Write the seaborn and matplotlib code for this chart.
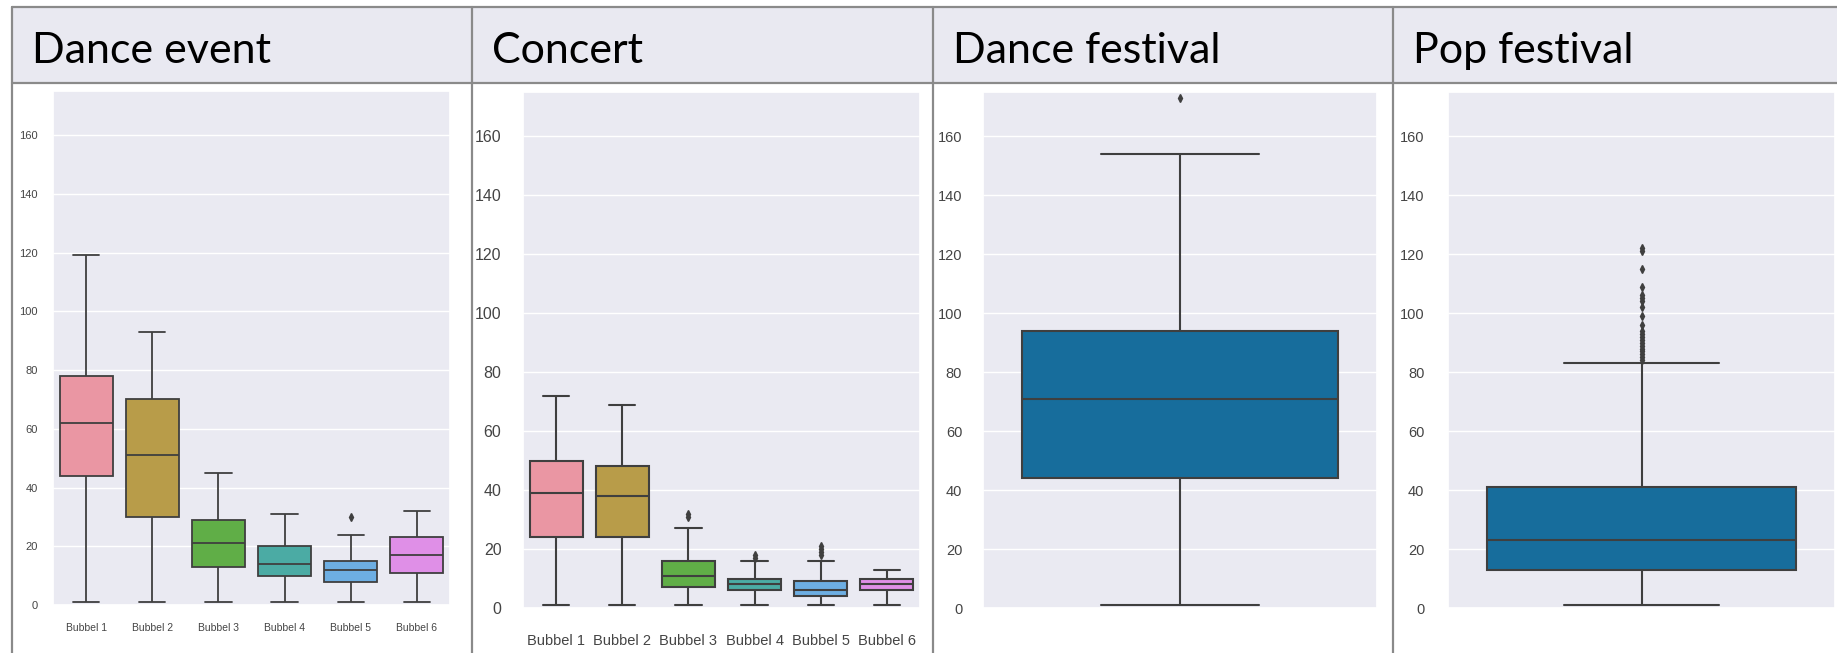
import numpy as np
import pandas as pd
import matplotlib.pyplot as plt
import seaborn as sns

W, H = 1837, 653

panel_titles = ["Dance event", "Concert", "Dance festival", "Pop festival"]
bubbles = ["Bubbel 1", "Bubbel 2", "Bubbel 3", "Bubbel 4", "Bubbel 5", "Bubbel 6"]

# Dance event: five-number summary per bubble + outliers
dance_event_low = [1, 1, 1, 1, 1, 1]
dance_event_q1 = [44, 30, 13, 10, 8, 11]
dance_event_med = [62, 51, 21, 14, 12, 17]
dance_event_q3 = [78, 70, 29, 20, 15, 23]
dance_event_high = [119, 93, 45, 31, 24, 32]
dance_event_out = [[], [], [], [], [30], []]

# Concert
concert_low = [1, 1, 1, 1, 1, 1]
concert_q1 = [24, 24, 7, 6, 4, 6]
concert_med = [39, 38, 11, 8, 6, 8]
concert_q3 = [50, 48, 16, 10, 9, 10]
concert_high = [72, 69, 27, 16, 16, 13]
concert_out = [[], [], [31, 32], [17, 18], [18, 19, 20, 21], []]

# Dance festival (one box)
dance_festival_stats = [1, 44, 71, 94, 154]
dance_festival_out = [173]

# Pop festival (one box)
pop_festival_stats = [1, 13, 23, 41, 83]
pop_festival_out = [84, 85, 86, 87, 88, 89, 90, 91, 92, 93, 94, 96, 99, 102,
                    104, 105, 106, 109, 115, 121, 122]

y_ticks = [0, 20, 40, 60, 80, 100, 120, 140, 160]


def make_sample(lo, q1, med, q3, hi, out):
    # rebuild a sample whose quartiles/whiskers give exactly the box
    m = len(out)
    k = m + 4
    return [lo] * (1 + m) + [q1] * k + [med] + [q3] * k + [hi] + list(out)


def long_frame(lows, q1s, meds, q3s, his, outs):
    rows = []
    for name, lo, a, b, c, hi, out in zip(bubbles, lows, q1s, meds, q3s, his, outs):
        for v in make_sample(lo, a, b, c, hi, out):
            rows.append((name, v))
    return pd.DataFrame(rows, columns=["bubble", "value"])


sns.set_theme(style="darkgrid")
plt.rcParams["font.family"] = ["Liberation Sans", "DejaVu Sans"]

fig = plt.figure(figsize=(W / 100, H / 100), dpi=100)
fig.patch.set_facecolor("white")

# slide table: header row + column lines, in pixel coordinates
bg = fig.add_axes([0, 0, 1, 1])
bg.set_xlim(0, W)
bg.set_ylim(H, 0)
bg.axis("off")
frame_col = "#8a8a8a"
col_x = [12, 472, 933, 1393]
bg.add_patch(plt.Rectangle((12, 7), W - 12, 76, facecolor="#e9e9f1", edgecolor="none"))
bg.plot([12, W], [7, 7], color=frame_col, lw=1.6)
bg.plot([12, W], [83, 83], color=frame_col, lw=1.6)
for x in col_x:
    bg.plot([x, x], [7, H], color=frame_col, lw=1.6)
for x, t in zip(col_x, panel_titles):
    bg.text(x + 20, 63, t, fontsize=31, family=["Lato", "DejaVu Sans"],
            color="black", va="baseline", ha="left")


def px_axes(x0, y0, x1, y1):
    return fig.add_axes([x0 / W, 1 - y1 / H, (x1 - x0) / W, (y1 - y0) / H])


line_col = "#3f3f3f"
tick_col = "#444444"
flier = dict(marker="d", markersize=4, markerfacecolor=line_col,
             markeredgecolor=line_col)

# panel 1 - Dance event
ax1 = px_axes(53, 91, 450, 605)
df1 = long_frame(dance_event_low, dance_event_q1, dance_event_med,
                 dance_event_q3, dance_event_high, dance_event_out)
sns.boxplot(data=df1, x="bubble", y="value", hue="bubble",
            palette=sns.husl_palette(6, l=.7), legend=False, width=0.8,
            linecolor=line_col, linewidth=1.3, flierprops=flier, ax=ax1)
ax1.tick_params(axis="y", labelsize=8, colors=tick_col, pad=5)
ax1.tick_params(axis="x", labelsize=7.5, colors=tick_col, pad=7)

# panel 2 - Concert
ax2 = px_axes(523, 92, 920, 608)
df2 = long_frame(concert_low, concert_q1, concert_med,
                 concert_q3, concert_high, concert_out)
sns.boxplot(data=df2, x="bubble", y="value", hue="bubble",
            palette=sns.husl_palette(6, l=.7), legend=False, width=0.8,
            linecolor=line_col, linewidth=1.5, flierprops=flier, ax=ax2)
ax2.tick_params(axis="y", labelsize=11.5, colors=tick_col, pad=9.5)
ax2.tick_params(axis="x", labelsize=10.5, colors=tick_col, pad=13)

# panel 3 - Dance festival
ax3 = px_axes(983, 92, 1377, 608)
sns.boxplot(y=make_sample(*dance_festival_stats, dance_festival_out),
            color=sns.color_palette("colorblind")[0], width=0.8,
            linecolor=line_col, linewidth=1.5, flierprops=flier, ax=ax3)
ax3.tick_params(axis="both", labelsize=10.5, colors=tick_col, pad=9)

# panel 4 - Pop festival
ax4 = px_axes(1448, 92, 1835, 608)
sns.boxplot(y=make_sample(*pop_festival_stats, pop_festival_out),
            color=sns.color_palette("colorblind")[0], width=0.8,
            linecolor=line_col, linewidth=1.5, flierprops=flier, ax=ax4)
ax4.tick_params(axis="both", labelsize=10.5, colors=tick_col, pad=11)

for ax in [ax1, ax2, ax3, ax4]:
    ax.set_ylim(0, 175)
    ax.set_yticks(y_ticks)
    ax.set_xlabel("")
    ax.set_ylabel("")
for ax in [ax3, ax4]:
    ax.set_xticks([])

fig.savefig("out.png", dpi=100)
